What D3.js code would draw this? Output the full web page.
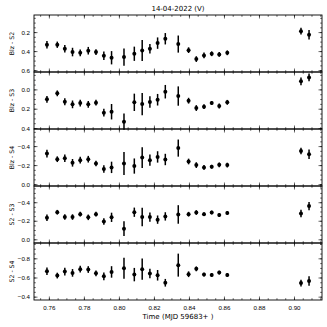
<!DOCTYPE html>
<html>
<head>
<meta charset="utf-8">
<script src="https://cdn.jsdelivr.net/npm/d3@7"></script>
<style>
  body { margin: 0; background: #fff; }
  svg { display: block; font-family: "DejaVu Sans", sans-serif; }
  .axis text { font-size: 6.2px; fill: #000; }
  .axis .domain { display: none; }
  .axis line { stroke: #000; stroke-width: 0.6; }
</style>
</head>
<body>
<svg class="chart" width="327" height="327"></svg>
<script>
// time of each point (MJD - 59683)
const time = [0.7589, 0.7648, 0.7691, 0.7735, 0.7779, 0.7825, 0.7869, 0.7914, 0.7958, 0.8029,
              0.8088, 0.8133, 0.8177, 0.8221, 0.8265, 0.8339, 0.8398, 0.8442, 0.8486, 0.8530,
              0.8573, 0.8619, 0.9040, 0.9086];

// differential magnitudes and errors
const blzS2 = [0.333, 0.333, 0.375, 0.41, 0.418, 0.396, 0.41, 0.449, 0.47, 0.463,
               0.428, 0.393, 0.375, 0.316, 0.27, 0.326, 0.39, 0.484, 0.445, 0.428,
               0.435, 0.418, 0.19, 0.228];
const blzS2Err = [0.04, 0.033, 0.04, 0.045, 0.035, 0.04, 0.03, 0.045, 0.07, 0.09,
                  0.075, 0.11, 0.05, 0.06, 0.06, 0.09, 0.03, 0.03, 0.03, 0.025,
                  0.025, 0.025, 0.035, 0.05];

const blzS3 = [0.103, 0.041, 0.128, 0.155, 0.141, 0.155, 0.138, 0.241, 0.231, 0.334,
               0.134, 0.152, 0.131, 0.107, 0.024, 0.069, 0.117, 0.193, 0.179, 0.141,
               0.172, 0.134, -0.083, -0.124];
const blzS3Err = [0.035, 0.03, 0.035, 0.04, 0.035, 0.035, 0.03, 0.04, 0.08, 0.085,
                  0.09, 0.115, 0.06, 0.06, 0.07, 0.1, 0.03, 0.03, 0.025, 0.02,
                  0.025, 0.025, 0.04, 0.04];

const blzS4 = [-0.321, -0.262, -0.272, -0.224, -0.252, -0.262, -0.217, -0.159, -0.176, -0.217,
               -0.19, -0.279, -0.252, -0.286, -0.259, -0.379, -0.238, -0.2, -0.176, -0.183,
               -0.203, -0.2, -0.348, -0.314];
const blzS4Err = [0.04, 0.03, 0.04, 0.04, 0.035, 0.035, 0.03, 0.04, 0.06, 0.12,
                  0.08, 0.11, 0.06, 0.06, 0.06, 0.09, 0.03, 0.03, 0.025, 0.02,
                  0.025, 0.025, 0.035, 0.05];

const s2S3 = [-0.233, -0.292, -0.24, -0.24, -0.271, -0.237, -0.271, -0.191, -0.237, -0.115,
              -0.292, -0.24, -0.24, -0.212, -0.247, -0.268, -0.271, -0.289, -0.271, -0.289,
              -0.261, -0.285, -0.278, -0.358];
const s2S3Err = [0.035, 0.025, 0.03, 0.03, 0.025, 0.03, 0.025, 0.035, 0.05, 0.08,
                 0.05, 0.1, 0.05, 0.045, 0.045, 0.1, 0.025, 0.025, 0.02, 0.02,
                 0.02, 0.02, 0.04, 0.045];

const s2S4 = [-0.665, -0.62, -0.662, -0.648, -0.687, -0.683, -0.644, -0.612, -0.658, -0.697,
              -0.63, -0.687, -0.641, -0.623, -0.545, -0.729, -0.634, -0.69, -0.63, -0.627,
              -0.651, -0.627, -0.542, -0.563];
const s2S4Err = [0.04, 0.03, 0.04, 0.04, 0.035, 0.035, 0.03, 0.04, 0.06, 0.11,
                 0.07, 0.11, 0.05, 0.055, 0.04, 0.12, 0.03, 0.025, 0.02, 0.02,
                 0.02, 0.02, 0.035, 0.05];

const panelLabels = ["Blz - S2", "Blz - S3", "Blz - S4", "S2 - S3", "S2 - S4"];
const panelValues = [blzS2, blzS3, blzS4, s2S3, s2S4];
const panelErrors = [blzS2Err, blzS3Err, blzS4Err, s2S3Err, s2S4Err];
// y ranges (inverted: first value at top)
const panelDomains = [[0.02, 0.62], [-0.18, 0.41], [-0.58, 0.02], [-0.575, 0.04], [-0.96, -0.365]];
const xTicks = [0.76, 0.78, 0.80, 0.82, 0.84, 0.86, 0.88, 0.90];

//layout
var margin = {top: 15, right: 5, bottom: 27, left: 34};
var width = 327 - margin.left - margin.right;
var height = 327 - margin.top - margin.bottom;
var panelH = height / panelLabels.length;

var chart = d3.select(".chart");

var x = d3.scaleLinear()
    .domain([0.7515, 0.916])
    .range([0, width]);

var xMinor = d3.range(0.755, 0.9151, 0.005);

panelLabels.forEach(function (label, p) {
    var g = chart.append("g")
        .attr("transform", "translate(" + margin.left + "," + (margin.top + p * panelH) + ")");

    var y = d3.scaleLinear()
        .domain(panelDomains[p])
        .range([0, panelH]);

    var lo = Math.min(panelDomains[p][0], panelDomains[p][1]);
    var hi = Math.max(panelDomains[p][0], panelDomains[p][1]);
    var yMajor = d3.range(Math.ceil(lo / 0.2 - 1e-6) * 0.2, hi + 1e-6, 0.2);
    var yMinor = d3.range(Math.ceil(lo / 0.05 - 1e-6) * 0.05, hi + 1e-6, 0.05);

    //ticks: inward on all sides
    g.append("g").attr("class", "axis")
        .attr("transform", "translate(0," + panelH + ")")
        .call(d3.axisBottom(x).tickValues(xMinor).tickSize(-1.8).tickFormat(""));
    g.append("g").attr("class", "axis")
        .attr("transform", "translate(0," + panelH + ")")
        .call(d3.axisBottom(x).tickValues(xTicks).tickSize(-3.5)
            .tickPadding(6)
            .tickFormat(p === panelLabels.length - 1 ? d3.format(".2f") : ""));
    g.append("g").attr("class", "axis")
        .call(d3.axisTop(x).tickValues(xMinor).tickSize(-1.8).tickFormat(""));
    g.append("g").attr("class", "axis")
        .call(d3.axisTop(x).tickValues(xTicks).tickSize(-3.5).tickFormat(""));

    g.append("g").attr("class", "axis")
        .call(d3.axisLeft(y).tickValues(yMinor).tickSize(-1.8).tickFormat(""));
    g.append("g").attr("class", "axis")
        .call(d3.axisLeft(y).tickValues(yMajor).tickSize(-3.5).tickPadding(4)
            .tickFormat(function (d) { return d3.format(".1f")(Math.abs(d) < 1e-9 ? 0 : d).replace("-", "\u2212"); }));
    g.append("g").attr("class", "axis")
        .attr("transform", "translate(" + width + ",0)")
        .call(d3.axisRight(y).tickValues(yMinor).tickSize(-1.8).tickFormat(""));
    g.append("g").attr("class", "axis")
        .attr("transform", "translate(" + width + ",0)")
        .call(d3.axisRight(y).tickValues(yMajor).tickSize(-3.5).tickFormat(""));

    //frame
    g.append("rect")
        .attr("width", width)
        .attr("height", panelH)
        .attr("fill", "none")
        .attr("stroke", "#000")
        .attr("stroke-width", 0.9);

    //error bars
    var vals = panelValues[p], errs = panelErrors[p];
    g.selectAll("line.err")
        .data(time)
        .enter().append("line")
        .attr("class", "err")
        .attr("x1", function (d) { return x(d); })
        .attr("x2", function (d) { return x(d); })
        .attr("y1", function (d, i) { return y(vals[i] - errs[i]); })
        .attr("y2", function (d, i) { return y(vals[i] + errs[i]); })
        .attr("stroke", "#000")
        .attr("stroke-width", 1.5);

    g.selectAll("circle")
        .data(time)
        .enter().append("circle")
        .attr("cx", function (d) { return x(d); })
        .attr("cy", function (d, i) { return y(vals[i]); })
        .attr("r", 2)
        .attr("fill", "#000");

    //y label
    chart.append("text")
        .attr("transform", "translate(12.5," + (margin.top + p * panelH + panelH / 2) + ")rotate(-90)")
        .attr("text-anchor", "middle")
        .attr("dominant-baseline", "middle")
        .style("font-size", "6.2px")
        .text(label);
});

//title and x label
chart.append("text")
    .attr("x", margin.left + width / 2)
    .attr("y", 11)
    .attr("text-anchor", "middle")
    .style("font-size", "7px")
    .text("14-04-2022  (V)");

chart.append("text")
    .attr("x", margin.left + width / 2)
    .attr("y", 319)
    .attr("text-anchor", "middle")
    .style("font-size", "7px")
    .text("Time (MJD 59683+ )");
</script>
</body>
</html>
